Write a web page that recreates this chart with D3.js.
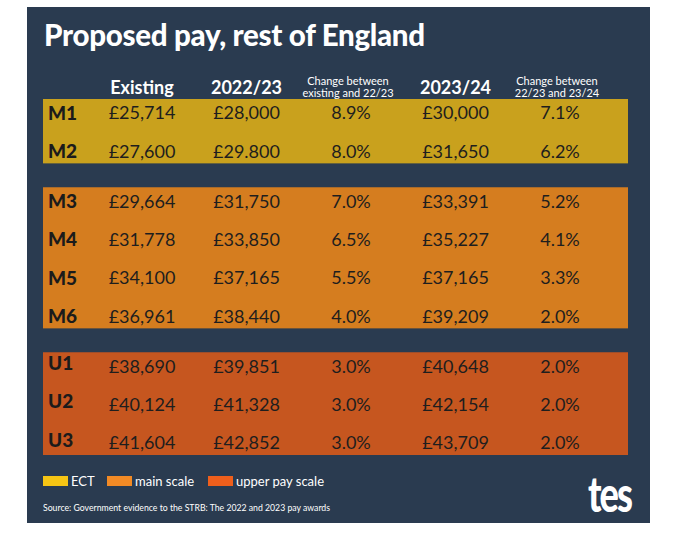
<!DOCTYPE html>
<html>
<head>
<meta charset="utf-8">
<script src="https://cdn.jsdelivr.net/npm/d3@7"></script>
<style>
  body { margin: 0; background: #fff; }
  svg { display: block; font-family: Lato, "Open Sans", sans-serif; }
</style>
</head>
<body>
<div id="chart"></div>
<script>
// table content
const grades = ['M1', 'M2', 'M3', 'M4', 'M5', 'M6', 'U1', 'U2', 'U3'];
const groupOf = [0, 0, 1, 1, 1, 1, 2, 2, 2];
const existing = ['£25,714', '£27,600', '£29,664', '£31,778', '£34,100', '£36,961', '£38,690', '£40,124', '£41,604'];
const pay2223 = ['£28,000', '£29.800', '£31,750', '£33,850', '£37,165', '£38,440', '£39,851', '£41,328', '£42,852'];
const change1 = ['8.9%', '8.0%', '7.0%', '6.5%', '5.5%', '4.0%', '3.0%', '3.0%', '3.0%'];
const pay2324 = ['£30,000', '£31,650', '£33,391', '£35,227', '£37,165', '£39,209', '£40,648', '£42,154', '£43,709'];
const change2 = ['7.1%', '6.2%', '5.2%', '4.1%', '3.3%', '2.0%', '2.0%', '2.0%', '2.0%'];

const columns = ['existing', 'pay2223', 'change1', 'pay2324', 'change2'];
const headers = [['Existing'], ['2022/23'], ['Change between', 'existing and 22/23'], ['2023/24'], ['Change between', '22/23 and 23/24']];

const groups = ['ECT', 'main scale', 'upper pay scale'];
const bandColors = ['#c9a11d', '#d57d1f', '#c6561f'];
const legendColors = ['#f6c514', '#f28a25', '#ef5f1c'];

const title = 'Proposed pay, rest of England';
const source = 'Source: Government evidence to the STRB: The 2022 and 2023 pay awards';

const rows = grades.map((g, i) => ({
    grade: g,
    group: groupOf[i],
    values: [existing[i], pay2223[i], change1[i], pay2324[i], change2[i]],
    slot: i + groupOf[i] * 0.3
}));

const W = 680, H = 550;
const svg = d3.select('#chart').append('svg')
    .attr('width', W)
    .attr('height', H);

// dark panel
svg.append('rect')
    .attr('x', 27).attr('y', 7)
    .attr('width', 623).attr('height', 516)
    .attr('fill', '#2a3b50');

svg.append('text')
    .attr('x', 44).attr('y', 46)
    .attr('fill', '#fff')
    .attr('font-size', 29.5)
    .attr('font-weight', 900)
    .attr('letter-spacing', -0.3)
    .text(title);

const y = d3.scaleLinear()
    .domain([0, d3.max(rows, d => d.slot)])
    .range([113, 443]);

const x = d3.scalePoint()
    .domain(columns)
    .range([142, 560]);

// coloured bands, one per group
const bandL = 43, bandR = 628, padTop = 14, padBot = 12;
groups.forEach((name, gi) => {
    const ext = d3.extent(rows.filter(r => r.group === gi), r => y(r.slot));
    svg.append('rect')
        .attr('x', bandL)
        .attr('y', ext[0] - padTop)
        .attr('width', bandR - bandL)
        .attr('height', ext[1] - ext[0] + padTop + padBot)
        .attr('fill', bandColors[gi]);
});

// column headers, two line ones are split into separate texts
headers.forEach((lines, i) => {
    if (lines.length === 1) {
        svg.append('text')
            .attr('x', x(columns[i])).attr('y', 94)
            .attr('text-anchor', 'middle')
            .attr('font-size', 18)
            .attr('font-weight', 700)
            .attr('fill', '#fff')
            .text(lines[0]);
    } else {
        lines.forEach((line, k) => {
            svg.append('text')
                .attr('x', x(columns[i]) - 3).attr('y', 85 + k * 12)
                .attr('text-anchor', 'middle')
                .attr('font-size', 11)
                .attr('fill', '#fff')
                .text(line);
        });
    }
});

// rows
const row = svg.selectAll('.row').data(rows).enter().append('g')
    .attr('class', 'row')
    .attr('transform', d => 'translate(0,' + y(d.slot) + ')');

row.append('text')
    .attr('x', 48)
    .attr('dy', d => d.group === 2 ? '0.2em' : '0.36em')
    .attr('font-size', 19)
    .attr('font-weight', 900)
    .attr('fill', '#1b1b1b')
    .text(d => d.grade);

row.selectAll('.val').data(d => d.values).enter().append('text')
    .attr('class', 'val')
    .attr('x', (d, i) => x(columns[i]))
    .attr('dy', '0.36em')
    .attr('text-anchor', 'middle')
    .attr('font-size', 18)
    .attr('fill', '#1e1e1e')
    .text(d => d);

// legend
const legX = [43, 107, 208];
const leg = svg.selectAll('.leg').data(groups).enter().append('g')
    .attr('class', 'leg')
    .attr('transform', (d, i) => 'translate(' + legX[i] + ',476)');
leg.append('rect')
    .attr('width', 25).attr('height', 10)
    .attr('fill', (d, i) => legendColors[i]);
leg.append('text')
    .attr('x', 28).attr('y', 9.5)
    .attr('font-size', 13)
    .attr('fill', '#fff')
    .text(d => d);

svg.append('text')
    .attr('x', 43).attr('y', 511)
    .attr('font-size', 8.7)
    .attr('fill', '#fff')
    .text(source);

// logo
svg.append('text')
    .attr('transform', 'translate(588,512) scale(0.95,1.3)')
    .attr('font-size', 38)
    .attr('font-weight', 900)
    .attr('letter-spacing', -2)
    .attr('fill', '#fff')
    .text('tes');
</script>
</body>
</html>
